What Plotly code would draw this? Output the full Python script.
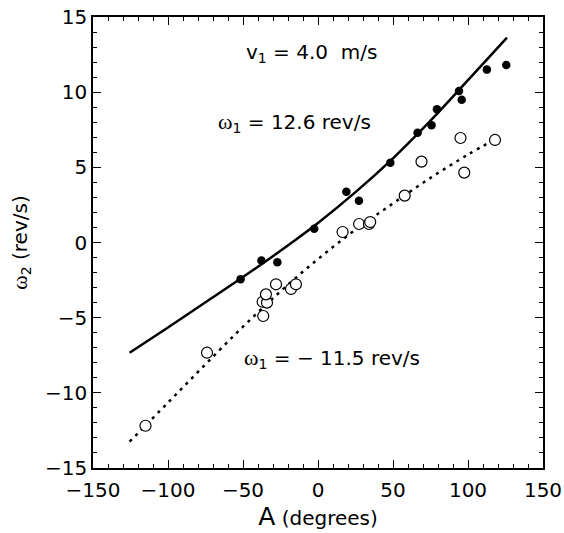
import plotly.graph_objects as go

# Filled points (omega1 = 12.6 rev/s)
filled_x = [-51.6, -37.7, -27.1, -2.5, 18.9, 27.3, 48.2, 66.4, 75.7, 79.3, 94.0, 95.8, 112.6, 125.5]
filled_y = [-2.45, -1.2, -1.32, 0.92, 3.38, 2.78, 5.3, 7.3, 7.8, 8.86, 10.08, 9.5, 11.5, 11.8]

# Open points (omega1 = -11.5 rev/s)
open_x = [-115.0, -74.0, -36.5, -36.9, -34.0, -34.7, -28.0, -18.0, -14.7, 16.4, 27.4, 34.0, 34.8, 57.8, 69.0, 95.0, 97.5, 118.0]
open_y = [-12.19, -7.33, -4.89, -3.94, -4.0, -3.45, -2.78, -3.09, -2.78, 0.7, 1.23, 1.23, 1.36, 3.12, 5.38, 6.95, 4.65, 6.82]

# Theory curves
solid_x = [-125.6, -100, -75, -50, -25, 0, 25, 50, 75, 100, 126]
solid_y = [-7.33, -5.65, -3.98, -2.3, -0.55, 1.3, 3.35, 5.6, 8.1, 10.8, 13.63]
dot_x = [-125.6, -100, -75, -50, -25, 0, 25, 50, 75, 100, 116]
dot_y = [-13.25, -10.65, -8.1, -5.6, -3.25, -1.1, 0.85, 2.6, 4.3, 5.85, 6.75]

x_ticks = [-150, -100, -50, 0, 50, 100, 150]
y_ticks = [-15, -10, -5, 0, 5, 10, 15]

def fmt(v):
    return ("\u2212" + str(-v)) if v < 0 else str(v)

fig = go.Figure()
fig.add_trace(go.Scatter(x=solid_x, y=solid_y, mode="lines", line=dict(color="black", width=2.5, shape="spline"), showlegend=False))
fig.add_trace(go.Scatter(x=dot_x, y=dot_y, mode="lines", line=dict(color="black", width=2.5, dash="3px,5px", shape="spline"), showlegend=False))
fig.add_trace(go.Scatter(x=filled_x, y=filled_y, mode="markers", marker=dict(color="black", size=8.5), showlegend=False))
fig.add_trace(go.Scatter(x=open_x, y=open_y, mode="markers", marker=dict(color="white", size=11, line=dict(color="black", width=1.2)), showlegend=False))

sans = "DejaVu Sans, Verdana, sans-serif"
serif = "Liberation Serif, Times New Roman, serif"
omega = f"<span style='font-family:{serif};font-size:22px'>ω</span>"

fig.add_annotation(x=-4.5, y=12.6, xref="x", yref="y", showarrow=False,
                   text="v<sub>1</sub> = 4.0  m/s", font=dict(family=sans, size=20, color="black"))
fig.add_annotation(x=-15.8, y=8.0, xref="x", yref="y", showarrow=False,
                   text=f"{omega}<sub>1</sub> = 12.6 rev/s", font=dict(family=sans, size=20, color="black"))
fig.add_annotation(x=9.2, y=-7.7, xref="x", yref="y", showarrow=False,
                   text=f"{omega}<sub>1</sub> = \u2212 11.5 rev/s", font=dict(family=sans, size=20, color="black"))

axis_common = dict(showgrid=False, zeroline=False, showline=True, linecolor="black", linewidth=1.5,
                   ticks="inside", ticklen=8, tickwidth=1.3, tickcolor="black", mirror="ticks",
                   automargin=False, ticklabeloverflow="allow",
                   tickfont=dict(family=sans, size=20, color="black"))

fig.update_xaxes(range=[-150, 150], tickvals=x_ticks, ticktext=[fmt(v) for v in x_ticks],
                 ticklabelstandoff=3,
                 minor=dict(dtick=10, tick0=0, ticks="inside", ticklen=4, tickwidth=1.2, tickcolor="black"),
                 title=dict(text="<span style='font-size:25px'>A</span> (degrees)", font=dict(family=sans, size=20, color="black"), standoff=3),
                 **axis_common)
fig.update_yaxes(range=[-15, 15], tickvals=y_ticks, ticktext=[fmt(v) for v in y_ticks],
                 minor=dict(dtick=1, tick0=0, ticks="inside", ticklen=4, tickwidth=1.2, tickcolor="black"),
                 title=dict(text=f"{omega}<sub>2</sub> (rev/s)", font=dict(family=sans, size=20, color="black"), standoff=12),
                 **axis_common)

fig.update_layout(width=564, height=533, margin=dict(l=93, r=21, t=17, b=65),
                  plot_bgcolor="white", paper_bgcolor="white")

# remove the browser's default 8px body margin so the figure fills the window exactly
fig.write_html("out.html", config={"displayModeBar": False},
               post_script="document.body.style.margin='0';document.body.style.overflow='hidden';")
